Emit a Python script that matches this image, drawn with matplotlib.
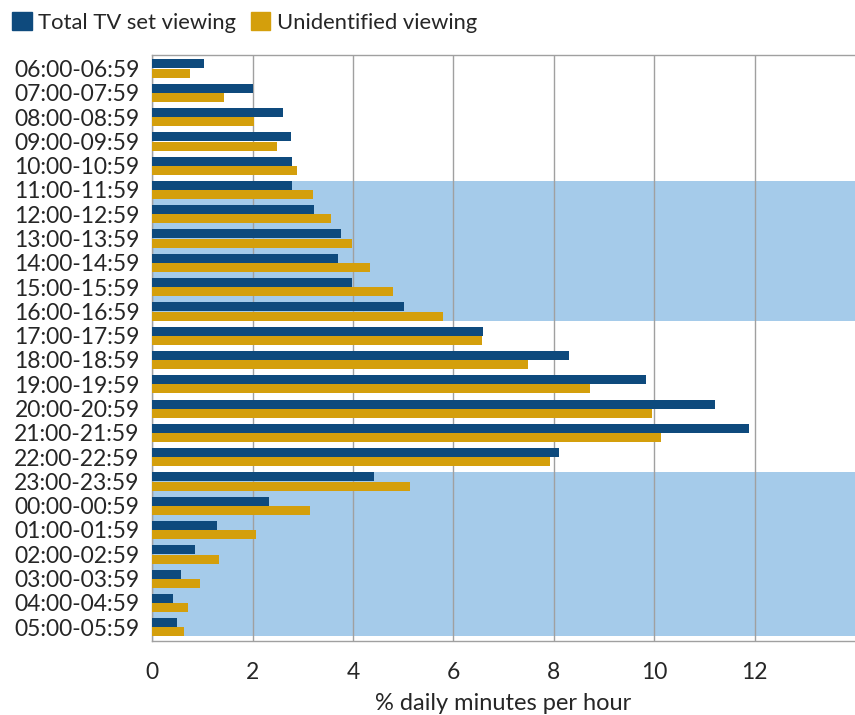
import numpy as np
import matplotlib
matplotlib.use('Agg')
from matplotlib import pyplot as plt
from matplotlib.patches import Patch

plt.rcParams['font.family'] = ['Lato', 'DejaVu Sans']

hours = ['06:00-06:59', '07:00-07:59', '08:00-08:59', '09:00-09:59', '10:00-10:59',
         '11:00-11:59', '12:00-12:59', '13:00-13:59', '14:00-14:59', '15:00-15:59',
         '16:00-16:59', '17:00-17:59', '18:00-18:59', '19:00-19:59', '20:00-20:59',
         '21:00-21:59', '22:00-22:59', '23:00-23:59', '00:00-00:59', '01:00-01:59',
         '02:00-02:59', '03:00-03:59', '04:00-04:59', '05:00-05:59']
total_tv = [1.03, 2.01, 2.60, 2.76, 2.78, 2.78, 3.22, 3.76, 3.70, 3.98, 5.02, 6.59,
            8.30, 9.84, 11.21, 11.89, 8.10, 4.42, 2.33, 1.29, 0.85, 0.57, 0.41, 0.49]
unidentified = [0.75, 1.43, 2.03, 2.48, 2.88, 3.20, 3.56, 3.98, 4.34, 4.80, 5.79, 6.57,
                7.48, 8.72, 9.96, 10.14, 7.92, 5.13, 3.14, 2.07, 1.33, 0.95, 0.71, 0.63]
xticks = [0, 2, 4, 6, 8, 10, 12]
shaded = [('11:00-11:59', '16:00-16:59'), ('23:00-23:59', '05:00-05:59')]

blue = '#0e4a7d'
gold = '#d49f0c'
band = '#a5cbea'
grey = '#a0a0a0'
txt = '#262626'

fig = plt.figure(figsize=(8.55, 7.15), dpi=100)
ax = fig.add_axes([0.178, 0.1035, 0.822, 0.8195])

y = np.arange(len(hours))
h = 0.37
# shaded time bands
for a, b in shaded:
    ax.axhspan(hours.index(a) - 0.38, hours.index(b) + 0.38, color=band, lw=0, zorder=0)

ax.barh(y - h / 2, total_tv, height=h, color=blue, zorder=3)
ax.barh(y + h / 2 + 0.01, unidentified, height=h, color=gold, zorder=3)

ax.set_ylim(len(hours) - 0.43, -0.55)
ax.set_xlim(0, 14.0)
ax.set_yticks(y)
ax.set_yticklabels(hours, fontsize=16.5, color=txt)
ax.set_xticks(xticks)
ax.set_xticklabels([str(v) for v in xticks], fontsize=16.5, color=txt)
ax.tick_params(length=0, pad=9)
ax.tick_params(axis='x', pad=15)
ax.xaxis.grid(True, color=grey, lw=1, zorder=1)
ax.set_axisbelow(True)
for s in ['left', 'top', 'bottom']:
    ax.spines[s].set_color(grey)
    ax.spines[s].set_linewidth(1)
ax.spines['right'].set_visible(False)
ax.set_xlabel('% daily minutes per hour', fontsize=17, color=txt, labelpad=7)

handles = [Patch(color=blue, label='Total TV set viewing'),
           Patch(color=gold, label='Unidentified viewing')]
fig.legend(handles=handles, loc='upper left', bbox_to_anchor=(0.0, 1.0), ncol=2,
           frameon=False, fontsize=15.8, handlelength=0.9, handleheight=0.9,
           handletextpad=0.3, columnspacing=0.65, labelcolor=txt,
           borderaxespad=0.25, borderpad=0.3)

fig.savefig('out.png', dpi=100)
